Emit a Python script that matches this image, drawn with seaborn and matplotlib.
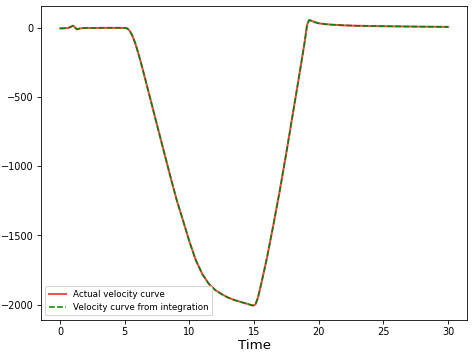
import matplotlib
matplotlib.use("Agg")
import matplotlib.pyplot as plt
import seaborn as sns
import numpy as np

# valores
time = [0, 0.3, 0.6, 0.8, 1.0, 1.15, 1.3, 1.5, 1.8, 2.5, 3.5, 4.5, 5.0,
        5.2, 5.4, 5.6, 5.8, 6.0, 6.2, 6.46, 7.0, 7.5, 8.0, 8.6, 9.0, 9.5,
        10.0, 10.5, 11.0, 11.5, 12.0, 12.5, 13.0, 13.5, 14.0, 14.5, 14.9,
        15.1, 15.3, 15.6, 16.0, 16.5, 17.0, 17.5, 18.0, 18.5, 18.9, 19.1,
        19.25, 19.45, 19.7, 20.0, 20.5, 21.0, 22.0, 23.0, 25.0, 27.5, 30.0]
velocity_actual = [-5, -4, -2, 5, 15, 2, -12, -6, -2, -2, -1, -1, -2,
                   -5, -25, -60, -110, -170, -235, -327, -522, -705, -885, -1101, -1240, -1391,
                   -1545, -1681, -1780, -1850, -1895, -1925, -1950, -1968, -1982, -1995, -2007,
                   -2000, -1950, -1830, -1660, -1420, -1170, -900, -620, -340, -110, 20,
                   55, 50, 40, 32, 26, 22, 17, 14, 11, 8, 6]
# a curva integrada coincide com a real
velocity_integrated = list(velocity_actual)

fig, ax = plt.subplots(figsize=(6.4, 4.8), dpi=74)
sns.lineplot(x=time, y=velocity_actual, color='r', linewidth=2, alpha=0.7,
             label='Actual velocity curve', ax=ax)
sns.lineplot(x=time, y=velocity_integrated, color='g', linewidth=1.5, linestyle='--',
             label='Velocity curve from integration', ax=ax)
ax.set_xlabel('Time', fontsize=13, labelpad=2)
ax.set_xticks([0, 5, 10, 15, 20, 25, 30])
ax.tick_params(labelsize=9.5)
ax.legend(loc='lower left', fontsize=8.5)
plt.subplots_adjust(left=0.086, right=0.987, top=0.983, bottom=0.099)
plt.savefig('out.png', dpi=74)
